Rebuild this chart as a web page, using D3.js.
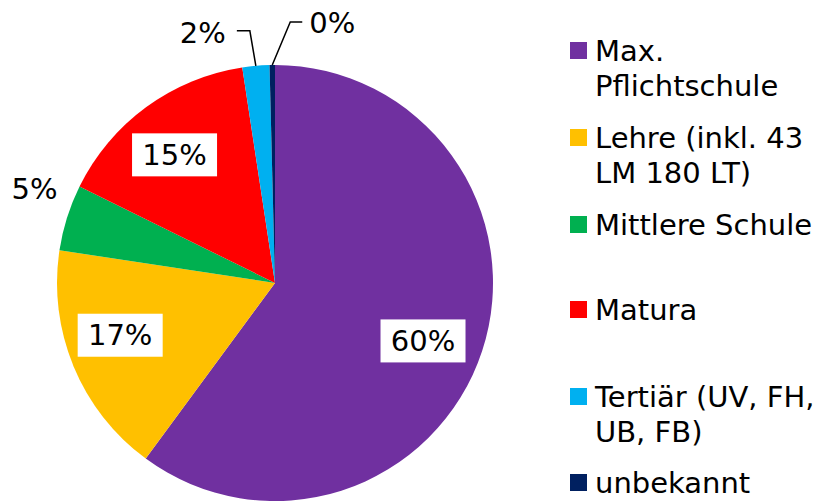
<!DOCTYPE html>
<meta charset="utf-8">
<style>
body { margin: 0; background: #fff; }
text { font-family: "DejaVu Sans", Verdana, sans-serif; font-size: 29px; fill: #000; }
</style>
<svg width="830" height="501"></svg>
<script src="https://d3js.org/d3.v7.min.js"></script>
<script>

// data
var categories = ["Max. Pflichtschule", "Lehre (inkl. 43 LM 180 LT)", "Mittlere Schule", "Matura", "Tertiär (UV, FH, UB, FB)", "unbekannt"];
var values = [60.1, 17.3, 4.9, 15.3, 2.0, 0.4];
var labels = ["60%", "17%", "5%", "15%", "2%", "0%"];
var legendLines = [["Max.", "Pflichtschule"], ["Lehre (inkl. 43", "LM 180 LT)"], ["Mittlere Schule"], ["Matura"], ["Tertiär (UV, FH,", "UB, FB)"], ["unbekannt"]];
var colors = ["#7030A0", "#FFC000", "#00B050", "#FF0000", "#00B0F0", "#002060"];

var svg = d3.select("svg"),
    cx = 275, cy = 283, radius = 218;

var pie = d3.pie().sort(null).value(function(d) { return d; });
var arcs = pie(values);
var arc = d3.arc().innerRadius(0).outerRadius(radius);
var labelArc = d3.arc().innerRadius(160).outerRadius(160);
var edgeArc = d3.arc().innerRadius(radius).outerRadius(radius);

var g = svg.append("g").attr("transform", "translate(" + cx + "," + cy + ")");

g.selectAll("path.slice")
  .data(arcs)
  .enter().append("path")
    .attr("class", "slice")
    .attr("d", arc)
    .attr("fill", function(d, i) { return colors[i]; });

// inside labels with white boxes (small nudges like excel's placement)
var inside = [[0, -4, 8], [1, -7, -9], [3, -6, 1]];
inside.forEach(function(s) {
  var i = s[0];
  var c = labelArc.centroid(arcs[i]);
  var lg = g.append("g").attr("transform", "translate(" + (c[0] + s[1]) + "," + (c[1] + s[2]) + ")");
  var t = lg.append("text")
      .attr("text-anchor", "middle")
      .attr("y", 10)
      .text(labels[i]);
  var bb = t.node().getBBox();
  lg.insert("rect", "text")
      .attr("x", -42.5)
      .attr("y", -21.5)
      .attr("width", 85)
      .attr("height", 43)
      .attr("fill", "#fff");
});

// 5% outside label
(function() {
  var a = (arcs[2].startAngle + arcs[2].endAngle) / 2;
  var r = 252;
  g.append("text")
    .attr("text-anchor", "middle")
    .attr("x", Math.sin(a) * r)
    .attr("y", -Math.cos(a) * r - 8)
    .text(labels[2]);
})();

// leader-line labels for the thin slices
function leader(i, dx1, dy1, dx2, anchor, tdx, tdy) {
  var p = edgeArc.centroid(arcs[i]);
  var x0 = p[0], y0 = p[1];
  var x1 = x0 + dx1, y1 = y0 + dy1, x2 = x1 + dx2;
  g.append("polyline")
    .attr("points", [[x0, y0], [x1, y1], [x2, y1]].map(function(q) { return q.join(","); }).join(" "))
    .attr("fill", "none")
    .attr("stroke", "#000")
    .attr("stroke-width", 1.5);
  g.append("text")
    .attr("text-anchor", anchor)
    .attr("x", x2 + tdx)
    .attr("y", y1 + tdy)
    .text(labels[i]);
}
leader(4, -6, -35, -13, "end", -11, 12);
leader(5, 18, -43, 12, "start", 7, 11);

// legend
var legend = svg.append("g").attr("transform", "translate(570,0)");
var legendY = [61, 148, 235, 320, 407, 493];
categories.forEach(function(c, i) {
  var item = legend.append("g").attr("transform", "translate(0," + legendY[i] + ")");
  item.append("rect")
    .attr("x", 0).attr("y", -19)
    .attr("width", 17).attr("height", 17)
    .attr("fill", colors[i]);
  legendLines[i].forEach(function(line, j) {
    item.append("text")
      .attr("x", 25)
      .attr("y", j * 35)
      .text(line);
  });
});

</script>
